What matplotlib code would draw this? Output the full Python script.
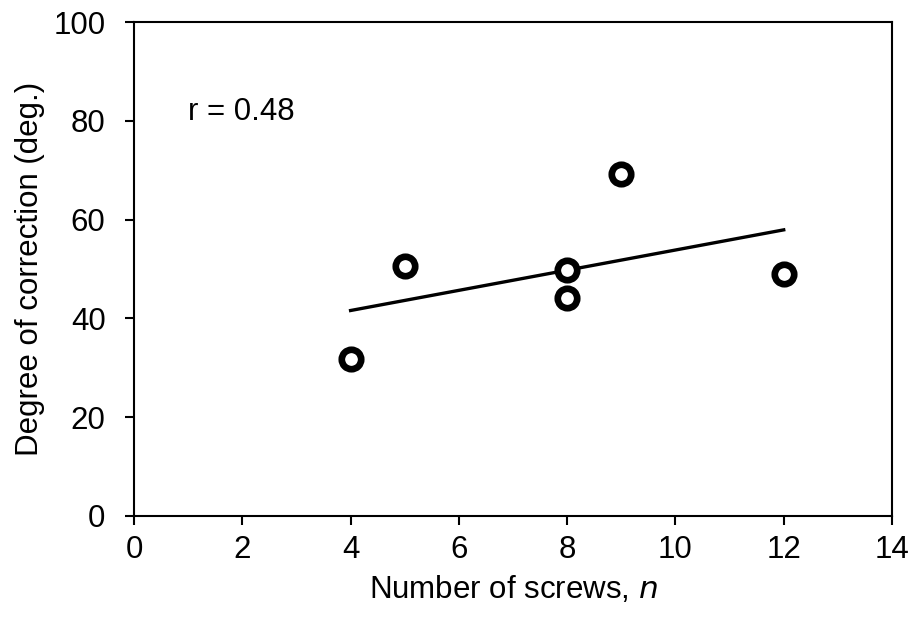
import numpy as np
import matplotlib.pyplot as plt

plt.rcParams['font.family'] = ['Liberation Sans', 'DejaVu Sans']

# screws vs degree of correction
n_screws = [4, 5, 8, 8, 9, 12]
correction = [31.8, 50.6, 49.8, 44.1, 69.2, 49.0]
r_label = 'r = 0.48'

fig = plt.figure(figsize=(9.13, 6.19), dpi=100)
ax = fig.add_axes([0.1468, 0.1664, 0.8302, 0.798])

# trend line from a least squares fit
slope, intercept = np.polyfit(n_screws, correction, 1)
xs = np.array([min(n_screws), max(n_screws)])
ax.plot(xs, slope * xs + intercept, color='black', lw=2.4, zorder=2)

ax.plot(n_screws, correction, 'o', ms=14, mfc='white', mec='black', mew=4.8, zorder=3)

ax.text(1.0, 80.2, r_label, fontsize=22.5, ha='left', va='baseline')

ax.set_xlim(0, 14)
ax.set_ylim(0, 100)
ax.set_xticks(range(0, 15, 2))
ax.set_yticks(range(0, 101, 20))
ax.tick_params(labelsize=22.5, width=1.5, length=6.5, direction='out')
ax.tick_params(axis='x', pad=7)
ax.tick_params(axis='y', pad=14)
for s in ax.spines.values():
    s.set_linewidth(1.5)

ax.set_xlabel('Number of screws, $\\it{n}$', fontsize=22.5, labelpad=7)
ax.set_ylabel('Degree of correction (deg.)', fontsize=22.5, labelpad=6)

fig.savefig('out.png', dpi=100)
